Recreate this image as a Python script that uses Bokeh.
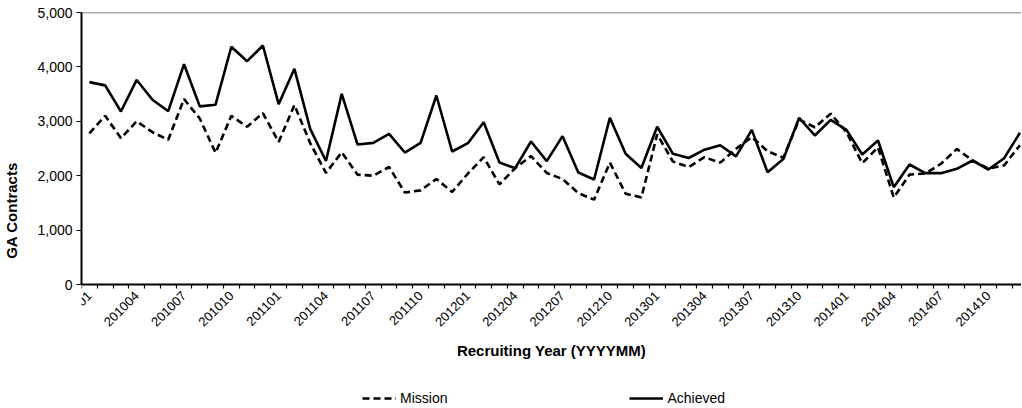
import numpy as np
from bokeh.plotting import figure
from bokeh.models import (FixedTicker, NumeralTickFormatter, Legend, LegendItem,
                          Span, ColumnDataSource, Range1d)
from bokeh.embed import file_html
from bokeh.resources import INLINE

months = [
    "201001", "201002", "201003", "201004", "201005", "201006", "201007", "201008", "201009", "201010", "201011", "201012",
    "201101", "201102", "201103", "201104", "201105", "201106", "201107", "201108", "201109", "201110", "201111", "201112",
    "201201", "201202", "201203", "201204", "201205", "201206", "201207", "201208", "201209", "201210", "201211", "201212",
    "201301", "201302", "201303", "201304", "201305", "201306", "201307", "201308", "201309", "201310", "201311", "201312",
    "201401", "201402", "201403", "201404", "201405", "201406", "201407", "201408", "201409", "201410", "201411", "201412",
]

mission = [
    2780, 3100, 2690, 3000, 2800, 2660, 3410, 3050, 2420, 3100, 2900, 3150,
    2620, 3300, 2600, 2050, 2430, 2020, 2000, 2160, 1690, 1730, 1940, 1700,
    2040, 2340, 1840, 2140, 2360, 2050, 1940, 1680, 1560, 2240, 1670, 1600,
    2760, 2260, 2160, 2340, 2240, 2494, 2710, 2450, 2330, 3030, 2890, 3140,
    2800, 2230, 2520, 1600, 2020, 2040, 2220, 2490, 2280, 2130, 2190, 2560,
]

achieved = [
    3720, 3660, 3180, 3760, 3395, 3186, 4050, 3275, 3305, 4370, 4105, 4393,
    3315, 3965, 2860, 2270, 3505, 2574, 2604, 2770, 2426, 2604, 3474, 2445,
    2598, 2984, 2243, 2138, 2629, 2267, 2727, 2059, 1930, 3064, 2402, 2140,
    2900, 2402, 2325, 2478, 2560, 2355, 2843, 2062, 2305, 3064, 2739, 3027,
    2843, 2390, 2647, 1789, 2206, 2047, 2047, 2127, 2279, 2114, 2322, 2789,
]

y_ticks = [0, 1000, 2000, 3000, 4000, 5000]
label_every = 3

x = np.arange(len(months)) + 0.5
src = ColumnDataSource(dict(x=x, mission=mission, achieved=achieved))

FONT = "Liberation Sans"

# layout: the frame extends below the value axis so that the tick labels,
# axis title and legend all sit inside the visible page
FRAME_H = 396
PLOT_H = 272
y_top = y_ticks[-1]
y_bottom = -y_top * (FRAME_H - PLOT_H) / PLOT_H

p = figure(frame_width=940, frame_height=FRAME_H, output_backend="svg", toolbar_location=None,
           x_range=Range1d(0, 59.6), y_range=Range1d(y_bottom, y_top),
           min_border_left=81, min_border_right=0, min_border_top=12, min_border_bottom=0)
p.outline_line_color = None
p.xgrid.visible = False
p.ygrid.visible = False
p.background_fill_color = "white"
p.border_fill_color = "white"

r_m = p.line("x", "mission", source=src, line_color="black", line_width=2.6, line_dash="7 4")
r_a = p.line("x", "achieved", source=src, line_color="black", line_width=2.6)

p.add_layout(Span(location=y_top, dimension="width", line_color="#555555", line_width=1.5))

# x axis (drawn at value 0)
xa = p.xaxis[0]
xa.fixed_location = 0
centers = [i + 0.5 for i in range(0, len(months), label_every)]
xa.ticker = FixedTicker(ticks=centers, minor_ticks=list(range(0, len(months) + 1)))
xa.major_label_overrides = {c: months[int(c - 0.5)] for c in centers}
xa.major_label_orientation = np.pi / 4
xa.major_tick_out = 0
xa.major_tick_in = 0
xa.minor_tick_out = 4
xa.minor_tick_in = 0
xa.minor_tick_line_color = "black"
xa.minor_tick_line_width = 1.2
xa.axis_line_color = "black"
xa.axis_line_width = 2
xa.major_label_text_font = FONT
xa.major_label_text_font_size = "13px"
xa.major_label_text_color = "black"
xa.major_label_standoff = 5
xa.axis_label = "Recruiting Year (YYYYMM)"
xa.axis_label_text_font = FONT
xa.axis_label_text_font_style = "bold"
xa.axis_label_text_font_size = "15px"
xa.axis_label_text_color = "black"
xa.axis_label_standoff = 8

# y axis
ya = p.yaxis[0]
ya.bounds = (y_ticks[0], y_ticks[-1])
ya.ticker = FixedTicker(ticks=y_ticks)
ya.formatter = NumeralTickFormatter(format="0,0")
ya.major_tick_out = 5
ya.major_tick_in = 0
ya.minor_tick_out = 0
ya.minor_tick_in = 0
ya.major_tick_line_width = 1.2
ya.axis_line_color = "black"
ya.axis_line_width = 2
ya.major_label_text_font = FONT
ya.major_label_text_font_size = "14px"
ya.major_label_text_color = "black"
ya.major_label_standoff = 4
ya.axis_label = "GA Contracts"
ya.axis_label_text_font = FONT
ya.axis_label_text_font_style = "bold"
ya.axis_label_text_font_size = "15px"
ya.axis_label_text_color = "black"
ya.axis_label_standoff = 14

legend = Legend(items=[LegendItem(label="Mission", renderers=[r_m]),
                       LegendItem(label="Achieved", renderers=[r_a])],
                orientation="horizontal", location=(281, 0),
                spacing=182, glyph_width=34, label_standoff=4,
                label_text_font=FONT, label_text_font_size="14px",
                label_text_color="black",
                border_line_color=None, background_fill_alpha=0,
                padding=2, margin=0)
p.add_layout(legend, "center")

open("out.html", "w").write(file_html(p, INLINE))
